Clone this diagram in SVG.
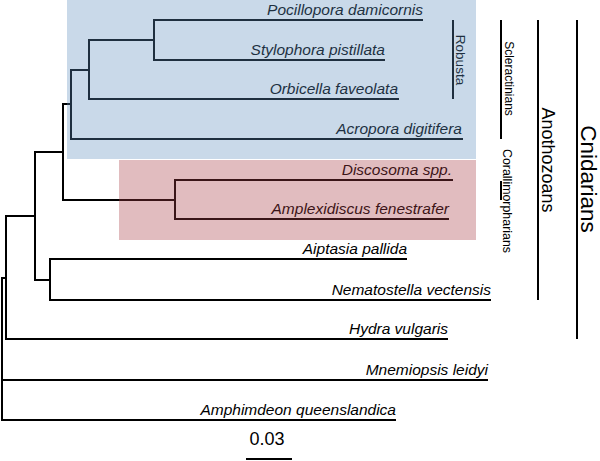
<svg xmlns="http://www.w3.org/2000/svg" width="600" height="461" viewBox="0 0 600 461">
<style>
.br{fill:none;stroke:#000;stroke-width:2;stroke-linecap:square}
.lb{font-family:"Liberation Sans",Arial,sans-serif;font-style:italic;font-size:15.5px;fill:#000;text-anchor:end}
.cl{font-family:"Liberation Sans",Arial,sans-serif;fill:#000;text-anchor:middle}
.bar{stroke:#000;stroke-width:2}
</style>
<rect width="600" height="461" fill="#fff"/>
<g id="connectors">
<path class="br" d="M154,20 H422 M154,60 H384 M154,20 V60 M89,40 H154"/>
<path class="br" d="M89,99 H398 M89,40 V99 M71,70 H89"/>
<path class="br" d="M71,139 H462 M71,70 V139 M63,104 H71"/>
<path class="br" d="M175,180 H452 M175,219 H448 M175,180 V219 M63,200 H175"/>
<path class="br" d="M63,104 V200 M35,152 H63"/>
<path class="br" d="M50,259 H406 M50,300 H490 M50,259 V300 M35,280 H50"/>
<path class="br" d="M35,152 V280 M6,216 H35"/>
<path class="br" d="M6,339 H447 M6,216 V339 M2,278 H6"/>
<path class="br" d="M2,380 H487 M2,420 H395 M2,278 V420"/>
</g>
<g id="pocillopora"><text class="lb" x="423" y="15">Pocillopora damicornis</text></g>
<g id="stylophora"><text class="lb" x="385" y="55">Stylophora pistillata</text></g>
<g id="orbicella"><text class="lb" x="398" y="94">Orbicella faveolata</text></g>
<g id="acropora"><text class="lb" x="462" y="134">Acropora digitifera</text></g>
<g id="discosoma"><text class="lb" x="452" y="175">Discosoma spp.</text></g>
<g id="amplexidiscus"><text class="lb" x="449" y="214">Amplexidiscus fenestrafer</text></g>
<g id="aiptasia"><text class="lb" x="407" y="254">Aiptasia pallida</text></g>
<g id="nematostella"><text class="lb" x="491" y="295">Nematostella vectensis</text></g>
<g id="hydra"><text class="lb" x="448" y="334">Hydra vulgaris</text></g>
<g id="mnemiopsis"><text class="lb" x="488" y="375">Mnemiopsis leidyi</text></g>
<g id="amphimedon"><text class="lb" x="396" y="415">Amphimdeon queenslandica</text></g>
<g id="robusta">
<line class="bar" x1="453" y1="20" x2="453" y2="99"/>
<text class="cl" font-size="13.5" transform="translate(456,60) rotate(90)">Robusta</text>
</g>
<g id="scleractinians">
<line class="bar" x1="501" y1="20" x2="501" y2="139"/>
<text class="cl" font-size="12" transform="translate(505,78.5) rotate(90)">Scleractinians</text>
</g>
<g id="corallimorpharians">
<line class="bar" x1="501" y1="181" x2="501" y2="200"/>
<text class="cl" font-size="12.4" transform="translate(503,201) rotate(90)">Corallimorpharians</text>
</g>
<g id="anothozoans">
<line class="bar" x1="538" y1="20" x2="538" y2="300"/>
<text class="cl" font-size="18" transform="translate(542,160) rotate(90)">Anothozoans</text>
</g>
<g id="cnidarians">
<line class="bar" x1="577" y1="20" x2="577" y2="339"/>
<text class="cl" font-size="22.5" transform="translate(581,179) rotate(90)">Cnidarians</text>
</g>
<g id="scale">
<text class="cl" font-size="18" x="267" y="445">0.03</text>
<line class="bar" x1="246" y1="459" x2="292" y2="459"/>
</g>
<g id="highlights">
<rect x="67" y="0" width="409" height="159" fill="rgb(93,140,188)" fill-opacity="0.335"/>
<rect x="119" y="160" width="357" height="80" fill="rgb(168,61,70)" fill-opacity="0.345"/>
</g>
</svg>
